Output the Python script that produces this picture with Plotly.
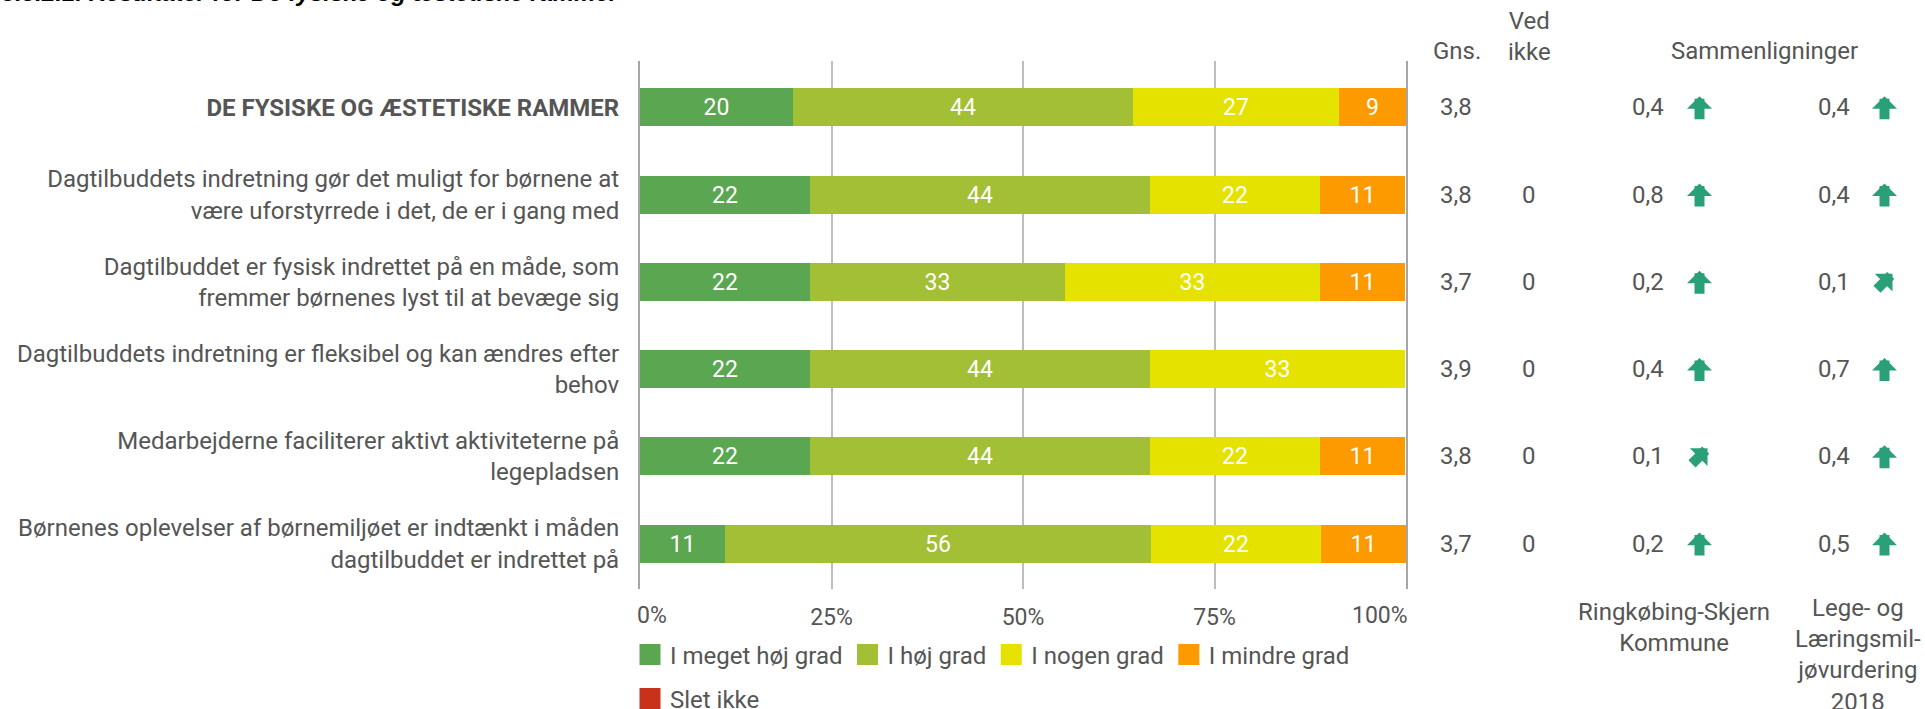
import plotly.graph_objects as go

# ---------------- data ----------------
categories = [
    "<b>DE FYSISKE OG ÆSTETISKE RAMMER</b>",
    "Dagtilbuddets indretning gør det muligt for børnene at<br>være uforstyrrede i det, de er i gang med",
    "Dagtilbuddet er fysisk indrettet på en måde, som<br>fremmer børnenes lyst til at bevæge sig",
    "Dagtilbuddets indretning er fleksibel og kan ændres efter<br>behov",
    "Medarbejderne faciliterer aktivt aktiviteterne på<br>legepladsen",
    "Børnenes oplevelser af børnemiljøet er indtænkt i måden<br>dagtilbuddet er indrettet på",
]
meget_hoej = [20.0, 22.2, 22.2, 22.2, 22.2, 11.1]
hoej = [44.4, 44.4, 33.3, 44.4, 44.4, 55.6]
nogen = [26.9, 22.2, 33.3, 33.3, 22.2, 22.2]
mindre = [8.7, 11.1, 11.1, 0.0, 11.1, 11.1]
slet_ikke = [0.0, 0.0, 0.0, 0.0, 0.0, 0.0]

series_names = ["I meget høj grad", "I høj grad", "I nogen grad", "I mindre grad", "Slet ikke"]
series_colors = ["#5ba651", "#a2bf35", "#e6e200", "#fd9a00", "#c8321a"]

gns = [3.8, 3.8, 3.7, 3.9, 3.8, 3.7]
ved_ikke = [None, 0, 0, 0, 0, 0]
komm_diff = [0.4, 0.8, 0.2, 0.4, 0.1, 0.2]
komm_dir = ["up", "up", "up", "up", "diag", "up"]
llm_diff = [0.4, 0.4, 0.1, 0.7, 0.4, 0.5]
llm_dir = ["up", "up", "diag", "up", "up", "up"]

x_tickvals = [0, 25, 50, 75, 100]
x_ticktext = ["0%", "25%", "50%", "75%", "100%"]

title_text = "3.3.2.1. Resultater for De fysiske og æstetiske rammer"

# ---------------- figure ----------------
W, H = 1925, 709
FONT = "Roboto"
TXT = "#555555"
ARROW = "#2aa078"
# arrow icon styles: tail offset (ax, ay) and shift so the icon is centred on its row
ARROW_STYLE = {
    "up": dict(ax=0, ay=24.5, xshift=0, yshift=11),
    "diag": dict(ax=-17, ay=17, xshift=8, yshift=8),
}

def px(x):
    return x / W

def py(y):
    return 1 - y / H

def fmt(v):
    return f"{v:.1f}".replace(".", ",")

fig = go.Figure()
all_series = [meget_hoej, hoej, nogen, mindre, slet_ikke]
for i, (name, color, vals) in enumerate(zip(series_names, series_colors, all_series)):
    leg = "legend2" if i == 4 else "legend"
    fig.add_trace(go.Bar(
        y=categories, x=vals, orientation="h", name=name,
        marker=dict(color=color, line=dict(width=0)),
        text=[f"{v:.0f}" if v > 0 else "" for v in vals],
        textposition="inside", insidetextanchor="middle",
        textfont=dict(family=FONT, size=23, color="white"),
        width=0.435, hoverinfo="skip", showlegend=False, legendgroup=name,
    ))
    # legend key (larger square swatch than the default bar key)
    fig.add_trace(go.Scatter(
        x=[None], y=[None], mode="markers", name=name, legendgroup=name,
        marker=dict(symbol="square", size=16, color=color, line=dict(color=color, width=5)),
        hoverinfo="skip", showlegend=True, legend=leg,
    ))

annotations = []
row_font = dict(family=FONT, size=24, color=TXT)


def arrow_ann(xpix, cat, direction):
    st = ARROW_STYLE[direction]
    return dict(x=px(xpix), y=cat, xref="paper", yref="y", text="", showarrow=True,
                ax=st["ax"], ay=st["ay"], xshift=st["xshift"], yshift=st["yshift"],
                arrowhead=1, arrowsize=0.417, arrowwidth=10, arrowcolor=ARROW,
                standoff=0, font=dict(size=1))


for cat, g, v, k, kd, l, ld in zip(categories, gns, ved_ikke, komm_diff, komm_dir, llm_diff, llm_dir):
    annotations.append(dict(x=px(1456), y=cat, xref="paper", yref="y", text=fmt(g),
                            showarrow=False, font=row_font, xanchor="center", yanchor="middle"))
    if v is not None:
        annotations.append(dict(x=px(1529), y=cat, xref="paper", yref="y", text=str(v),
                                showarrow=False, font=row_font, xanchor="center", yanchor="middle"))
    annotations.append(dict(x=px(1648), y=cat, xref="paper", yref="y", text=fmt(k),
                            showarrow=False, font=row_font, xanchor="center", yanchor="middle"))
    annotations.append(arrow_ann(1699.5, cat, kd))
    annotations.append(dict(x=px(1834), y=cat, xref="paper", yref="y", text=fmt(l),
                            showarrow=False, font=row_font, xanchor="center", yanchor="middle"))
    annotations.append(arrow_ann(1884.5, cat, ld))

# end tick labels sit inside the axis span (as in the reference); middle ones come from the axis
tick_font = dict(family=FONT, size=23, color=TXT)
mid_vals, mid_text = [], []
for val, txt in zip(x_tickvals, x_ticktext):
    if val == x_tickvals[0]:
        annotations.append(dict(x=val, xref="x", y=py(615), yref="paper", text=txt, showarrow=False,
                                xanchor="left", yanchor="middle", xshift=-5, font=tick_font))
    elif val == x_tickvals[-1]:
        annotations.append(dict(x=val, xref="x", y=py(615), yref="paper", text=txt, showarrow=False,
                                xanchor="right", yanchor="middle", xshift=4, font=tick_font))
    else:
        mid_vals.append(val)
        mid_text.append(txt)

hdr_font = dict(family=FONT, size=24, color=TXT)
annotations += [
    dict(x=px(1457), y=py(51), xref="paper", yref="paper", text="Gns.", showarrow=False,
         font=hdr_font, xanchor="center", yanchor="middle"),
    dict(x=px(1529), y=py(36.5), xref="paper", yref="paper", text="Ved<br>ikke", showarrow=False,
         font=hdr_font, xanchor="center", yanchor="middle"),
    dict(x=px(1764), y=py(51), xref="paper", yref="paper", text="Sammenligninger", showarrow=False,
         font=hdr_font, xanchor="center", yanchor="middle"),
    dict(x=px(1674), y=py(627), xref="paper", yref="paper", text="Ringkøbing-Skjern<br>Kommune",
         showarrow=False, font=hdr_font, xanchor="center", yanchor="middle"),
    dict(x=px(1858), y=py(655), xref="paper", yref="paper",
         text="Lege- og<br>Læringsmil-<br>jøvurdering<br>2018", showarrow=False, font=hdr_font,
         xanchor="center", yanchor="middle"),
    dict(x=0, y=py(8), xref="paper", yref="paper", xanchor="left", yanchor="bottom",
         text=f"<b><i>{title_text}</i></b>", showarrow=False,
         font=dict(family="Liberation Sans", size=24, color="black")),
]

fig.update_layout(
    width=W, height=H, autosize=False,
    margin=dict(l=0, r=0, t=0, b=0, autoexpand=False),
    paper_bgcolor="white", plot_bgcolor="white",
    barmode="stack", bargap=0,
    font=dict(family=FONT, color=TXT, size=23),
    xaxis=dict(domain=[px(640), px(1406)], range=[0, 100], tickvals=mid_vals, ticktext=mid_text,
               showgrid=True, gridcolor="#bdbdbd", gridwidth=1.5, zeroline=False, showline=False,
               ticks="", ticklabelstandoff=12, tickfont=tick_font,
               automargin=False, fixedrange=True),
    yaxis=dict(domain=[py(589), py(61)], type="category", categoryorder="array",
               categoryarray=categories, range=[5.52, -0.53], showgrid=False, zeroline=False,
               showline=True, linecolor="#a6a6a6", linewidth=2, mirror=True, ticks="",
               ticklabelstandoff=14, tickfont=dict(family=FONT, size=24, color=TXT),
               automargin=False, fixedrange=True),
    legend=dict(orientation="h", x=px(630), xanchor="left", y=py(655), yanchor="middle",
                font=dict(family=FONT, size=24, color=TXT), bgcolor="rgba(0,0,0,0)",
                traceorder="normal", itemclick=False, itemdoubleclick=False),
    legend2=dict(orientation="h", x=px(630), xanchor="left", y=py(699), yanchor="middle",
                 font=dict(family=FONT, size=24, color=TXT), bgcolor="rgba(0,0,0,0)",
                 itemclick=False, itemdoubleclick=False),
    annotations=annotations,
    showlegend=True,
)

fig.write_html("out.html", config={"displayModeBar": False},
               post_script="document.body.style.margin='0';document.body.style.overflow='hidden';")
